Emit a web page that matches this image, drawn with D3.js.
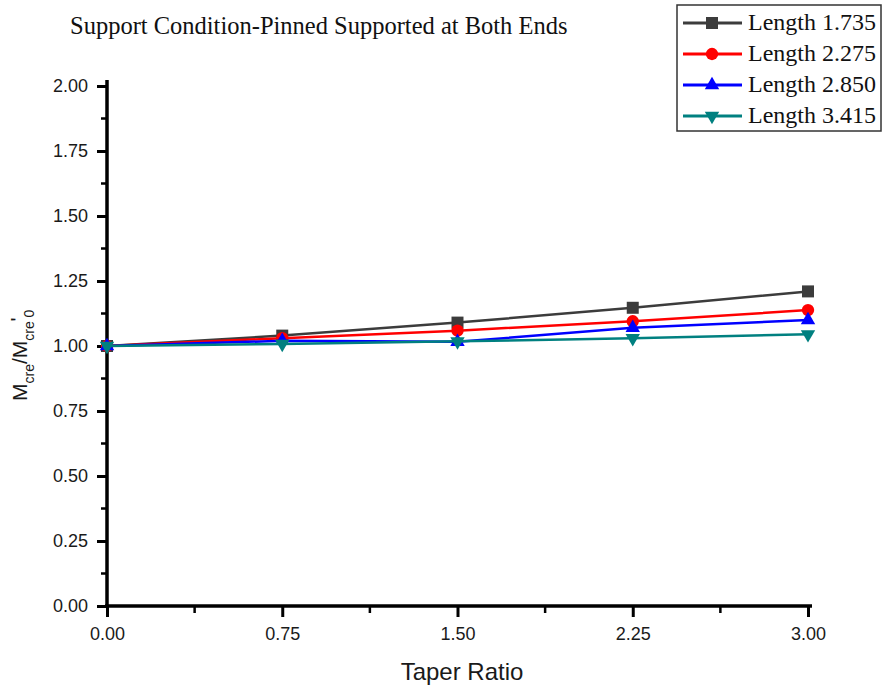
<!DOCTYPE html>
<html>
<head>
<meta charset="utf-8">
<script src="https://cdn.jsdelivr.net/npm/d3@7"></script>
<style>
body { margin: 0; background: #fff; }
</style>
</head>
<body>
<div id="chart"></div>
<script>
// data
var taper = [0, 0.75, 1.5, 2.25, 3.0];
var len1735 = [1.00, 1.04, 1.09, 1.147, 1.21];
var len2275 = [1.00, 1.03, 1.059, 1.095, 1.138];
var len2850 = [1.00, 1.02, 1.016, 1.07, 1.10];
var len3415 = [1.00, 1.008, 1.018, 1.03, 1.045];
var seriesNames = ["Length 1.735", "Length 2.275", "Length 2.850", "Length 3.415"];
var xTicks = [0, 0.75, 1.5, 2.25, 3.0];
var yTicks = [0, 0.25, 0.5, 0.75, 1.0, 1.25, 1.5, 1.75, 2.0];

var colors = ["#3c3c3c", "#ff0000", "#0000ff", "#008080"];
var shapes = [d3.symbolSquare, d3.symbolCircle, d3.symbolTriangle, "down"];
var sizes = [144, 120, 90, 90];
var allSeries = [len1735, len2275, len2850, len3415];

var W = 883, H = 685;
var svg = d3.select("#chart").append("svg").attr("width", W).attr("height", H);

var x = d3.scaleLinear().domain([0, 3]).range([107, 808]);
var y = d3.scaleLinear().domain([0, 2]).range([606, 86]);
var sans = "Liberation Sans, Arial, sans-serif";
var serif = "Liberation Serif, Times New Roman, serif";

// title
svg.append("text").attr("x", 70).attr("y", 34)
    .style("font-family", serif).style("font-size", "24.5px")
    .attr("fill", "#111").text("Support Condition-Pinned Supported at Both Ends");

// minor ticks
var minorX = d3.range(0.375, 3, 0.75);
var minorY = d3.range(0.125, 2, 0.25);
svg.selectAll(".mx").data(minorX).enter().append("line")
    .attr("x1", function (d) { return x(d); }).attr("x2", function (d) { return x(d); })
    .attr("y1", 606).attr("y2", 613).attr("stroke", "#000").attr("stroke-width", 2.5);
svg.selectAll(".my").data(minorY).enter().append("line")
    .attr("y1", function (d) { return y(d); }).attr("y2", function (d) { return y(d); })
    .attr("x1", 107).attr("x2", 101).attr("stroke", "#000").attr("stroke-width", 2.5);

// axes
var xAxis = d3.axisBottom(x).tickValues(xTicks).tickFormat(d3.format(".2f")).tickSize(11).tickSizeOuter(0);
var yAxis = d3.axisLeft(y).tickValues(yTicks).tickFormat(d3.format(".2f")).tickSize(10).tickSizeOuter(0).tickPadding(9);

var gx = svg.append("g").attr("transform", "translate(0,606)").call(xAxis);
var gy = svg.append("g").attr("transform", "translate(107,0)").call(yAxis);
[gx, gy].forEach(function (g) {
    g.select(".domain").remove();
    g.selectAll(".tick line").attr("stroke", "#000").attr("stroke-width", 3);
    g.selectAll(".tick text").attr("fill", "#1a1a1a")
        .style("font-family", sans).style("font-size", "18px");
});
gx.selectAll(".tick text").attr("y", 34).attr("dy", 0);

svg.append("line").attr("x1", 107).attr("x2", 107).attr("y1", 80).attr("y2", 608)
    .attr("stroke", "#000").attr("stroke-width", 3.5);
svg.append("line").attr("x1", 105).attr("x2", 812).attr("y1", 606).attr("y2", 606)
    .attr("stroke", "#000").attr("stroke-width", 3.5);

// axis titles
svg.append("text").attr("x", 462).attr("y", 680).attr("text-anchor", "middle")
    .style("font-family", sans).style("font-size", "24px")
    .attr("fill", "#1a1a1a").text("Taper Ratio");

var yl = svg.append("text").attr("transform", "translate(27,401) rotate(-90)")
    .style("font-family", sans).style("font-size", "21px").attr("fill", "#1a1a1a");
yl.append("tspan").text("M");
yl.append("tspan").attr("dy", 7).style("font-size", "14px").text("cre");
yl.append("tspan").attr("dy", -7).text("/M");
yl.append("tspan").attr("dy", 7).style("font-size", "14px").text("cre 0");
// prime sits raised over the end of the subscript
yl.append("tspan").attr("dy", -9).attr("dx", -12).text("'");

// lines and markers
var line = d3.line().x(function (d, i) { return x(taper[i]); }).y(function (d) { return y(d); });

function markerPath(k) {
    var t = shapes[k] === "down" ? d3.symbolTriangle : shapes[k];
    return d3.symbol().type(t).size(sizes[k])();
}

allSeries.forEach(function (vals, k) {
    svg.append("path").datum(vals).attr("d", line).attr("fill", "none")
        .attr("stroke", colors[k]).attr("stroke-width", 2.5);
    svg.selectAll(".m" + k).data(vals).enter().append("path")
        .attr("d", markerPath(k))
        .attr("transform", function (d, i) {
            return "translate(" + x(taper[i]) + "," + y(d) + ")" + (shapes[k] === "down" ? " rotate(180)" : "");
        })
        .attr("fill", colors[k]);
});

// legend
var lg = svg.append("g");
lg.append("rect").attr("x", 677).attr("y", 5).attr("width", 204).attr("height", 126)
    .attr("fill", "#fff").attr("stroke", "#333").attr("stroke-width", 1.5);
seriesNames.forEach(function (name, k) {
    var yy = 23 + k * 31;
    lg.append("line").attr("x1", 683).attr("x2", 742).attr("y1", yy).attr("y2", yy)
        .attr("stroke", colors[k]).attr("stroke-width", 3);
    lg.append("path").attr("d", markerPath(k))
        .attr("transform", "translate(712," + yy + ")" + (shapes[k] === "down" ? " rotate(180)" : ""))
        .attr("fill", colors[k]);
    lg.append("text").attr("x", 748).attr("y", yy + 7)
        .style("font-family", serif).style("font-size", "24px")
        .attr("fill", "#111").text(name);
});
</script>
</body>
</html>
